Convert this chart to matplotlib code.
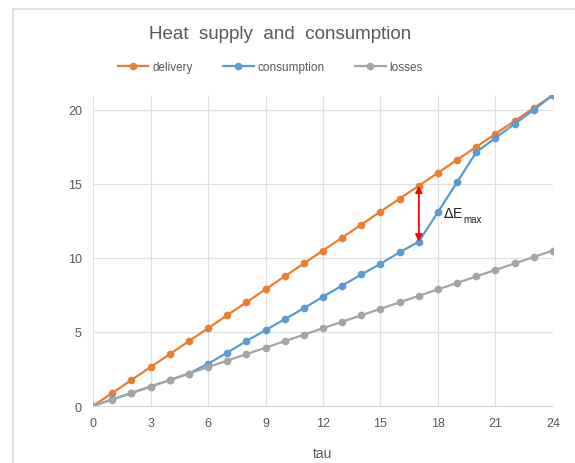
import numpy as np
import matplotlib.pyplot as plt
from matplotlib.patches import Rectangle

plt.rcParams['font.family'] = ['Liberation Sans', 'DejaVu Sans']

tau = list(range(25))
delivery = [0, 0.875, 1.75, 2.625, 3.5, 4.375, 5.25, 6.125, 7.0, 7.875, 8.75,
            9.625, 10.5, 11.375, 12.25, 13.125, 14.0, 14.875, 15.75, 16.625,
            17.5, 18.375, 19.25, 20.125, 21.0]
consumption = [0, 0.44, 0.875, 1.31, 1.75, 2.19, 2.85, 3.6, 4.38, 5.12, 5.86,
               6.6, 7.38, 8.13, 8.88, 9.6, 10.38, 11.1, 13.1, 15.12, 17.15,
               18.1, 19.05, 20.0, 21.0]
losses = [0, 0.4375, 0.875, 1.3125, 1.75, 2.1875, 2.625, 3.0625, 3.5, 3.9375,
          4.375, 4.8125, 5.25, 5.6875, 6.125, 6.5625, 7.0, 7.4375, 7.875,
          8.3125, 8.75, 9.1875, 9.625, 10.0625, 10.5]
x_ticks = [0, 3, 6, 9, 12, 15, 18, 21, 24]
y_ticks = [0, 5, 10, 15, 20]
t_max = 17  # hour of the largest gap between delivery and consumption

fig = plt.figure(figsize=(5.75, 4.64), dpi=100)
ax = fig.add_axes([93/575, 1 - 407/464, 460/575, 311/464])

# chart frame
fig.patches.append(Rectangle((13/575, -0.05), 1.2, 1 - 10/464 + 0.05,
                             transform=fig.transFigure, fill=False,
                             edgecolor='#d9d9d9', linewidth=1.2))

ax.plot(tau, delivery, color='#ed7d31', marker='o', markersize=4.5, linewidth=1.6,
        label='delivery')
ax.plot(tau, consumption, color='#5b9bd5', marker='o', markersize=4.5, linewidth=1.6,
        label='consumption')
ax.plot(tau, losses, color='#a5a5a5', marker='o', markersize=4.5, linewidth=1.6,
        label='losses')

i = tau.index(t_max)
ax.annotate('', xy=(t_max, consumption[i]), xytext=(t_max, delivery[i]),
            arrowprops=dict(arrowstyle='<|-|>', color='red', lw=1.3,
                            mutation_scale=10, shrinkA=0, shrinkB=0))
ax.text(t_max + 1.25, 13.05, r'$\Delta$E', fontsize=10, color='#222222',
        va='center')
ax.text(t_max + 2.3, 12.6, 'max', fontsize=7, color='#222222', va='center')

ax.set_xlim(0, 24)
ax.set_ylim(0, 21)
ax.set_xticks(x_ticks)
ax.set_yticks(y_ticks)
ax.grid(True, color='#e0e0e0', linewidth=0.9)
ax.set_axisbelow(True)
for side in ['top', 'right', 'left']:
    ax.spines[side].set_visible(False)
ax.spines['bottom'].set_color('#d9d9d9')
ax.tick_params(length=0, labelsize=9, colors='#595959', pad=8)
ax.set_xlabel('tau', fontsize=10, color='#595959', labelpad=12)

fig.text(0.487, 0.925, 'Heat  supply  and  consumption', ha='center', va='center',
         fontsize=13.5, color='#595959')
fig.legend(loc='center', bbox_to_anchor=(0.47, 0.853), ncol=3, frameon=False,
           fontsize=8.5, labelcolor='#595959', handlelength=2.6, columnspacing=2.6,
           handletextpad=0.3)

fig.savefig('out.png', dpi=100)
